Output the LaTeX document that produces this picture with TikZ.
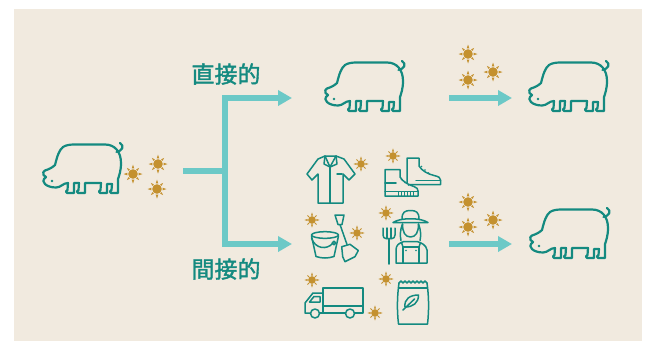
\documentclass[tikz,border=0pt]{standalone}
\usepackage{fontspec}
\newfontfamily\cjkfont[FakeBold=1.6]{Noto Sans CJK JP}
\usetikzlibrary{arrows.meta}
\definecolor{bg}{HTML}{F1EADF}
\definecolor{teal1}{HTML}{148A80}
\definecolor{flow}{HTML}{6CC9C7}
\definecolor{sunc}{HTML}{C4912F}
\tikzset{
  pigline/.style={draw=teal1, line width=2.2pt, line join=round, line cap=round},
  icon/.style={draw=teal1, line width=1.5pt, line join=round, line cap=round},
  flowline/.style={draw=flow, line width=6pt, -{Triangle[length=14pt,width=15pt]}},
  cjklabel/.style={text=teal1, font=\cjkfont\fontsize{23}{23}\selectfont, inner sep=0pt},
  pig/.pic={
    \draw[pigline] (20,4) .. controls (23,2) and (27,1.5) .. (32,1.5) -- (62,1.5)
      .. controls (72,1.5) and (78,9) .. (78,20) .. controls (78,28) and (76,33) .. (75,36)
      -- (75,50) -- (68,50) .. controls (66.5,50) and (66.5,47) .. (68.5,47) -- (69,41)
      -- (64,41) -- (64,50) -- (57,50) .. controls (55.5,50) and (55.5,47) .. (57.5,47) -- (58,40)
      -- (42,40) -- (42,50) -- (35,50) .. controls (33.5,50) and (33.5,47) .. (35.5,47) -- (36,40)
      -- (31,40) -- (31,50) -- (24,50) .. controls (22.5,50) and (22.5,47) .. (24.5,47) -- (25,40)
      .. controls (20,40) and (18,44.5) .. (13,44.5) .. controls (8,44.5) and (4,43) .. (2,41)
      .. controls (0,39) and (0,37) .. (1,36) -- (3,34) -- (0.5,32)
      .. controls (0,30) and (0,28) .. (2,27.5) .. controls (5,26.5) and (9,25) .. (12,22)
      .. controls (14,14) and (16,7) .. (20,4) -- cycle;
    \draw[pigline] (73.5,9) .. controls (79,8) and (82,3) .. (77,0);
    \fill[teal1] (9,38) circle (1.3);
  },
  sun/.pic={
    \fill[sunc] (0,0) circle (4.8);
    \foreach \a in {0,90,180,270}
      \fill[sunc,rotate=\a] (5.6,1.3) -- (9.5,0) -- (5.6,-1.3) -- cycle;
    \foreach \a in {45,135,225,315}
      \fill[sunc,rotate=\a] (5.6,1.1) -- (8.5,0) -- (5.6,-1.1) -- cycle;
  }
}
\begin{document}
\begin{tikzpicture}[x=1pt,y=-1pt]
  \useasboundingbox (0,0) rectangle (648,341);
  \fill[white] (0,0) rectangle (648,341);
  \fill[bg] (14,9) rectangle (642,341);

  % pigs
  \pic (pigStart) at (43,143) {pig};
  \pic (pigDirect) at (325,61) {pig};
  \pic (pigDirectEnd) at (529,61) {pig};
  \pic (pigIndirectEnd) at (530,208) {pig};

  % suns
  \foreach \p in {(133,174),(158,164),(157,189),(468,54),(493,72),(468,80),(468,202),(493,220),(468,227)}
    \pic at \p {sun};
  \foreach \p in {(361,164),(393,156),(312,220),(357,233),(386,213),(312,280),(375,313),(386,279)}
    \pic[scale=0.8] at \p {sun};

  % labels
  \node[cjklabel] (direct) at (226,74) {直接的};
  \node[cjklabel] (indirect) at (226,269) {間接的};

  % flow arrows
  \coordinate (src) at (183,171);
  \coordinate (fork) at (225,171);
  \coordinate (dirEnd) at (292,98);
  \coordinate (indEnd) at (292,244);
  \draw[flowline,-] (src) -- (fork);
  \draw[flowline] (fork) |- (dirEnd);
  \draw[flowline] (fork) |- (indEnd);
  \coordinate (a1s) at (449,98);
  \coordinate (a1e) at (512,98);
  \coordinate (a2s) at (449,244);
  \coordinate (a2e) at (512,244);
  \draw[flowline] (a1s) -- (a1e);
  \draw[flowline] (a2s) -- (a2e);

  % shirt
  \draw[icon] (325,156) -- (318,159) -- (307,174) -- (312,180) -- (318,174) -- (318,203)
    -- (343,203) -- (343,174) -- (349,180) -- (355,174) -- (344,159) -- (336,156) -- cycle;
  \draw[icon] (325,156) -- (324,164) -- (330,167) -- (337,164) -- (336,156);
  \draw[icon] (325,156) -- (330,167) -- (336,156);
  \draw[icon] (330,167) -- (330,203);
  \draw[icon] (337,174) -- (342,174);

  % boots
  \draw[icon,fill=bg] (407,158) -- (419,158) -- (419,166) .. controls (422,171) and (428,174) .. (434,175.5)
    .. controls (439,176.5) and (440.5,178) .. (440.5,180) -- (440.5,184.5) -- (407,184.5) -- cycle;
  \draw[icon] (416,180.5) -- (440.5,180.5);
  \foreach \p in {(421.5,166.5),(425,170),(428.5,173)} \fill[teal1] \p circle (0.9);
  \draw[icon,fill=bg] (385,169.5) -- (400,169.5) -- (400,177) .. controls (403,182) and (409,185) .. (414,186.5)
    .. controls (417,187.5) and (418,189) .. (418,191) -- (418,196) -- (385,196) -- cycle;
  \draw[icon] (385,183) -- (396,183);
  \draw[icon] (385,191.5) -- (418,191.5);
  \foreach \x in {398,401,404,407,410,413} \draw[teal1,line width=0.8pt] (\x,192) -- (\x,195.5);
  \foreach \p in {(401.5,179.5),(405,182.5),(408.5,185)} \fill[teal1] \p circle (0.9);

  % bucket and shovel
  \draw[icon] (325,235) ellipse (13.5 and 3.3);
  \draw[icon] (311.5,236) -- (316,256.5) .. controls (322,258.5) and (328,258.5) .. (334,256.5) -- (338.5,236);
  \draw[icon] (311.5,238) .. controls (315,249) and (327,250) .. (332.5,243.5);
  \draw[icon] (334,243) circle (1.8);
  \draw[icon] (335,215) -- (344,215) -- (342,224.5) -- (338,224.5) -- cycle;
  \draw[icon] (340,224.5) -- (347,244.5);
  \draw[icon] (341.7,246.7) -- (350,244.3) -- (358.3,250.5) -- (355,256.7) -- (345,261.7) -- (342.7,256.7) -- cycle;

  % farmer with pitchfork
  \draw[icon] (402,219) .. controls (402,212) and (405,210.5) .. (410.5,210.5)
    .. controls (416,210.5) and (419,212) .. (419,219);
  \draw[icon] (393,222.5) .. controls (400,217.5) and (421,217.5) .. (428,222.5) -- cycle;
  \draw[icon] (402.5,224) .. controls (402.5,232) and (405,237) .. (410.5,237)
    .. controls (416,237) and (418.5,232) .. (418.5,224);
  \draw[icon] (402.5,224) .. controls (400,230) and (400,236) .. (401,240.5);
  \draw[icon] (418.5,224) .. controls (421,230) and (421,236) .. (420,240.5);
  \draw[icon] (396,263) -- (396,250) .. controls (396,245) and (399,243) .. (404,241.5) -- (417,241.5)
    .. controls (422,243) and (426,245) .. (427,250) -- (427,263) -- cycle;
  \draw[icon] (403,263) -- (403,247) -- (419,247) -- (419,263);
  \draw[icon] (403,247) -- (401.5,242.5);
  \draw[icon] (419,247) -- (420.5,242.5);
  \fill[teal1] (406,250.5) circle (0.9) (416,250.5) circle (0.9);
  \draw[icon] (389,238.5) -- (389,264);
  \draw[icon] (383,228) -- (383,235) .. controls (383,237.5) and (384.5,238.5) .. (386,238.5) -- (392,238.5)
    .. controls (393.5,238.5) and (395,237.5) .. (395,235) -- (395,228);
  \draw[icon] (387,228) -- (387,238.5);
  \draw[icon] (391,228) -- (391,238.5);

  % truck
  \draw[icon] (323,288) rectangle (363,306);
  \draw[icon] (323,293) -- (313,293) -- (305,303) -- (305,313) -- (310.5,313);
  \draw[icon] (323,306) -- (323,313);
  \draw[icon] (319.5,313) -- (345.5,313);
  \draw[icon] (354.5,313) -- (363,313) -- (363,306);
  \draw[icon] (315,313.5) circle (4.5);
  \draw[icon] (350,313.5) circle (4.5);
  \draw[icon] (314,296.5) -- (320,296.5) -- (320,302) -- (309.5,302) -- cycle;

  % seed bag
  \draw[icon] (399,283) \foreach \i in {1,...,7} { -- ++(2,-2) -- ++(2,2) };
  \draw[icon] (399,283) .. controls (397,297) and (397,311) .. (398.5,324) -- (427.5,324)
    .. controls (429,311) and (429,297) .. (427,283);
  \draw[icon] (399,288) -- (427,288);
  \draw[icon] (405,307) .. controls (404,299) and (410,295) .. (418.5,295)
    .. controls (418.5,303) and (413,307) .. (405,307) -- cycle;
  \draw[icon] (403,310) -- (414.5,299);
\end{tikzpicture}
\end{document}
